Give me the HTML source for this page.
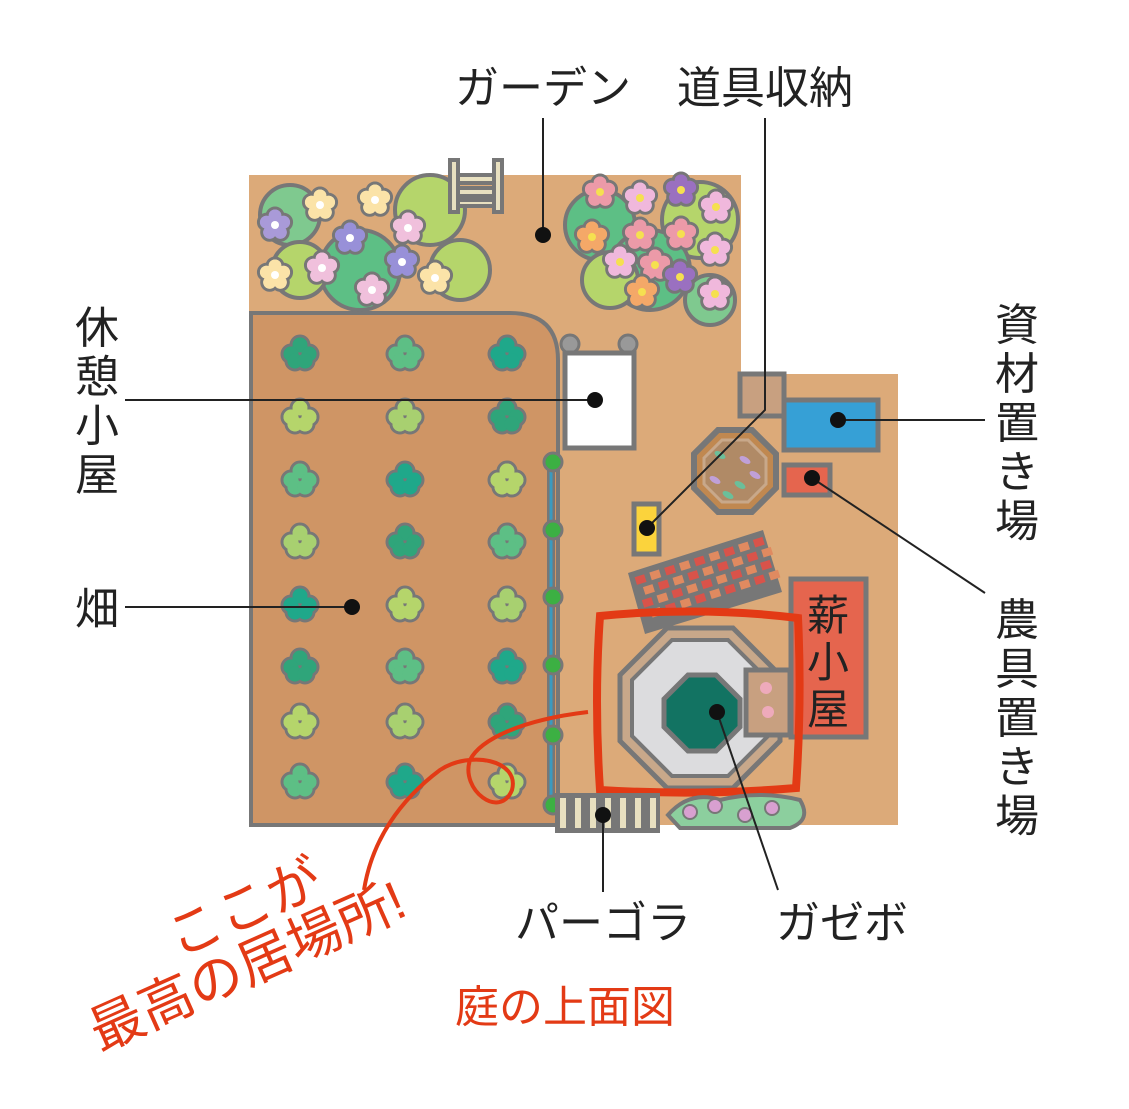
<!DOCTYPE html>
<html><head><meta charset="utf-8"><style>
html,body{margin:0;padding:0;background:#fff;width:1129px;height:1109px;overflow:hidden}
svg text{font-family:"Liberation Sans","Noto Sans CJK JP",sans-serif}
</style></head><body>
<svg id="s" width="1129" height="1109" viewBox="0 0 1129 1109" xmlns="http://www.w3.org/2000/svg">
<rect x="249" y="175" width="492" height="650" fill="#dcaa79"/>
<rect x="738" y="374" width="160" height="451" fill="#dcaa79"/>
<path d="M251 825 V313 H510 Q558 313 558 360 V825 Z" fill="#cf9565" stroke="#777" stroke-width="4"/>
<g id="plants"></g>
<g id="flowers"></g>
<!-- ladder -->
<g stroke="#777" stroke-width="4" fill="#e8e0c0">
<rect x="450" y="160" width="8" height="52"/><rect x="494" y="160" width="8" height="52"/>
<rect x="458" y="175" width="36" height="8"/><rect x="458" y="188" width="36" height="8"/><rect x="458" y="200" width="36" height="6"/>
</g>
<!-- fence -->
<line x1="551" y1="460" x2="551" y2="808" stroke="#777" stroke-width="8"/>
<line x1="551" y1="460" x2="551" y2="808" stroke="#3a9ac0" stroke-width="3"/>
<g fill="#3cb043" stroke="#777" stroke-width="3">
<circle cx="553" cy="462" r="9"/><circle cx="553" cy="530" r="9"/><circle cx="553" cy="597" r="9"/><circle cx="553" cy="665" r="9"/><circle cx="553" cy="735" r="9"/><circle cx="553" cy="805" r="9"/></g>
<!-- hut -->
<circle cx="570" cy="344" r="9" fill="#999" stroke="#777" stroke-width="3"/><circle cx="628" cy="344" r="9" fill="#999" stroke="#777" stroke-width="3"/>
<rect x="565" y="353" width="69" height="95" fill="#fff" stroke="#777" stroke-width="5"/>
<!-- storage -->
<rect x="740" y="374" width="44" height="42" fill="#c8a080" stroke="#777" stroke-width="5"/>
<rect x="784" y="400" width="94" height="50" fill="#36a0d6" stroke="#777" stroke-width="5"/>
<rect x="784" y="465" width="46" height="30" fill="#e5654e" stroke="#777" stroke-width="5"/>
<polygon points="718,430 752,430 776,454 776,488 752,512 718,512 694,488 694,454" fill="#c08850" stroke="#777" stroke-width="6"/>
<polygon points="722,440 748,440 766,458 766,484 748,502 722,502 704,484 704,458" fill="#b08a66" stroke="#c8a88a" stroke-width="3"/>
<g id="planter"></g>
<rect x="634" y="504" width="25" height="50" fill="#fbd33c" stroke="#777" stroke-width="5"/>
<!-- brick deck -->
<polygon points="628,573 763,530 782,592 645,634" fill="#777"/>
<g id="bricks"></g>
<!-- firewood hut -->
<rect x="791" y="579" width="75" height="158" fill="#e5654e" stroke="#777" stroke-width="5"/>
<text x="828" y="630" font-size="42" text-anchor="middle" fill="#222">薪</text>
<text x="828" y="677" font-size="42" text-anchor="middle" fill="#222">小</text>
<text x="828" y="724" font-size="42" text-anchor="middle" fill="#222">屋</text>
<!-- gazebo -->
<polygon points="667,628 733,628 780,675 780,741 733,788 667,788 620,741 620,675" fill="#c8a88a" stroke="#777" stroke-width="5"/>
<polygon points="672,640 728,640 768,680 768,736 728,776 672,776 632,736 632,680" fill="#dcdcde" stroke="#777" stroke-width="4"/>
<polygon points="688,675 716,675 740,699 740,727 716,751 688,751 664,727 664,699" fill="#127362" stroke="#777" stroke-width="5"/>
<rect x="746" y="670" width="44" height="65" fill="#c8a080" stroke="#777" stroke-width="5"/>
<circle cx="766" cy="688" r="6" fill="#eab" /><circle cx="768" cy="712" r="6" fill="#eab"/>
<!-- red box -->
<path d="M600 616 Q700 606 798 618 Q802 700 796 788 Q700 796 600 790 Q594 700 600 616 Z" fill="none" stroke="#e33a15" stroke-width="8"/>
<!-- pergola -->
<rect x="555" y="793" width="105" height="40" fill="#777"/>
<g fill="#e8e0c0"><rect x="560" y="798" width="6" height="30"/><rect x="575" y="798" width="6" height="30"/><rect x="590" y="798" width="6" height="30"/><rect x="605" y="798" width="6" height="30"/><rect x="620" y="798" width="6" height="30"/><rect x="635" y="798" width="6" height="30"/><rect x="650" y="798" width="6" height="30"/></g>
<path d="M668 815 Q690 790 720 800 Q760 790 800 800 Q812 820 790 828 L680 828 Z" fill="#8ccf9e" stroke="#777" stroke-width="4"/>
<g fill="#d8a0d0" stroke="#777" stroke-width="2"><circle cx="690" cy="812" r="7"/><circle cx="715" cy="806" r="7"/><circle cx="745" cy="815" r="7"/><circle cx="772" cy="808" r="7"/></g>
<!-- red arrow curve -->
<path d="M588 712 C520 720 480 740 470 760 C460 790 500 820 512 790 C520 760 470 750 440 770 C400 800 372 840 364 890" fill="none" stroke="#e33a15" stroke-width="4"/>
<!-- leader lines -->
<g stroke="#222" stroke-width="2" fill="none">
<line x1="543" y1="118" x2="543" y2="235"/>
<polyline points="765,118 765,410 647,528"/>
<line x1="125" y1="400" x2="595" y2="400"/>
<line x1="125" y1="607" x2="352" y2="607"/>
<line x1="838" y1="420" x2="985" y2="420"/>
<line x1="812" y1="478" x2="985" y2="593"/>
<line x1="603" y1="815" x2="603" y2="892"/>
<line x1="717" y1="712" x2="778" y2="890"/>
</g>
<g fill="#111">
<circle cx="543" cy="235" r="8"/><circle cx="647" cy="528" r="8"/><circle cx="595" cy="400" r="8"/><circle cx="352" cy="607" r="8"/><circle cx="838" cy="420" r="8"/><circle cx="812" cy="478" r="8"/><circle cx="603" cy="815" r="8"/><circle cx="717" cy="712" r="8"/></g>
<!-- labels -->
<g font-size="44" fill="#222">
<text x="543" y="103" text-anchor="middle">ガーデン</text>
<text x="765" y="103" text-anchor="middle">道具収納</text>
<text x="603" y="938" text-anchor="middle">パーゴラ</text>
<text x="842" y="938" text-anchor="middle">ガゼボ</text>
<text x="97" y="343" text-anchor="middle">休</text><text x="97" y="392" text-anchor="middle">憩</text><text x="97" y="441" text-anchor="middle">小</text><text x="97" y="490" text-anchor="middle">屋</text>
<text x="97" y="624" text-anchor="middle">畑</text>
<text x="1017" y="340" text-anchor="middle">資</text><text x="1017" y="389" text-anchor="middle">材</text><text x="1017" y="438" text-anchor="middle">置</text><text x="1017" y="487" text-anchor="middle">き</text><text x="1017" y="536" text-anchor="middle">場</text>
<text x="1017" y="635" text-anchor="middle">農</text><text x="1017" y="684" text-anchor="middle">具</text><text x="1017" y="733" text-anchor="middle">置</text><text x="1017" y="782" text-anchor="middle">き</text><text x="1017" y="831" text-anchor="middle">場</text>
</g>
<g fill="#e33a15" font-size="54">
<text transform="translate(178,958) rotate(-24)">ここが</text>
<text transform="translate(100,1052) rotate(-24)">最高の居場所!</text>
<text x="565" y="1022" text-anchor="middle" font-size="44">庭の上面図</text>
</g>
</svg>
<script>
var NS="http://www.w3.org/2000/svg";
function el(p,t,a){var e=document.createElementNS(NS,t);for(var k in a)e.setAttribute(k,a[k]);p.appendChild(e);return e;}
var pl=document.getElementById("plants"),cols=[300,405,507],rows=[352,415,478,540,603,665,720,780],gc=["#2fa57a","#b5d56b","#5dbf85","#a8d070","#1fa88a"],n=0;
rows.forEach(function(y){cols.forEach(function(x){var g=el(pl,"g",{});var c=gc[(n++*7)%5];
[[0,-7],[-9,2],[9,2],[-5,9],[5,9]].forEach(function(d){el(g,"circle",{cx:x+d[0],cy:y+d[1],r:9,fill:c,stroke:"#777","stroke-width":3});});
[[0,-7],[-9,2],[9,2],[-5,9],[5,9]].forEach(function(d){el(g,"circle",{cx:x+d[0],cy:y+d[1],r:7.5,fill:c});});});});
var fl=document.getElementById("flowers");
function bush(x,y,r,c){el(fl,"circle",{cx:x,cy:y,r:r,fill:c,stroke:"#777","stroke-width":4});}
[[290,215,30,"#7fc98f"],[430,210,35,"#b5d56b"],[360,270,40,"#5dbf85"],[460,270,30,"#b5d56b"],[300,270,28,"#b5d56b"],
[600,225,35,"#5dbf85"],[700,220,38,"#b5d56b"],[650,270,40,"#5dbf85"],[610,280,28,"#b5d56b"],[710,300,25,"#7fc98f"]].forEach(function(b){bush(b[0],b[1],b[2],b[3]);});
function flower(x,y,c,cc){for(var i=0;i<5;i++){var a=i*1.2566-1.57;el(fl,"circle",{cx:x+Math.cos(a)*9,cy:y+Math.sin(a)*9,r:8,fill:c,stroke:"#777","stroke-width":3});}
for(var i=0;i<5;i++){var a=i*1.2566-1.57;el(fl,"circle",{cx:x+Math.cos(a)*9,cy:y+Math.sin(a)*9,r:6.5,fill:c});}
el(fl,"circle",{cx:x,cy:y,r:4,fill:cc});}
[[275,225,"#a99ad8"],[320,205,"#fbe3a8"],[375,200,"#fbe3a8"],[350,238,"#9890d8"],[408,228,"#f0c0dc"],[275,275,"#fbe3a8"],[322,268,"#f0c0dc"],[402,262,"#9890d8"],[372,290,"#f0c0dc"],[435,278,"#fbe3a8"]].forEach(function(f){flower(f[0],f[1],f[2],"#fff");});
[[600,192,"#ec9aa8"],[640,198,"#f0b8dc"],[681,190,"#9a70c0"],[716,207,"#f0b8dc"],[592,237,"#f4a868"],[640,235,"#ec9aa8"],[681,234,"#ec9aa8"],[715,250,"#f0b8dc"],[620,262,"#f0b8dc"],[655,265,"#ec9aa8"],[680,277,"#9a70c0"],[642,292,"#f4a868"],[715,294,"#f0b8dc"]].forEach(function(f){flower(f[0],f[1],f[2],"#f5e050");});
var pt=document.getElementById("planter");
[[720,455,"#6bbf9a"],[745,460,"#c0a0d8"],[715,480,"#c0a0d8"],[740,485,"#6bbf9a"],[755,475,"#c0a0d8"],[728,495,"#6bbf9a"]].forEach(function(p){el(pt,"ellipse",{cx:p[0],cy:p[1],rx:6,ry:3,fill:p[2],transform:"rotate(30 "+p[0]+" "+p[1]+")"});});
var br=document.getElementById("bricks");var g=el(br,"g",{transform:"translate(628,573) rotate(-17.5)"});
for(var r=0;r<4;r++)for(var c=0;c<9;c++)el(g,"rect",{x:5+c*15.5+(r%2)*5,y:6+r*12,width:10,height:8,fill:(c+r)%2?"#e08a60":"#d9534a"});
</script>
</body></html>
